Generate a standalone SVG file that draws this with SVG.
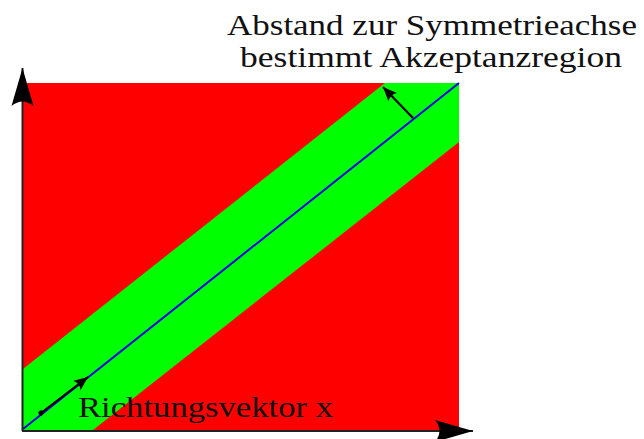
<svg xmlns="http://www.w3.org/2000/svg" width="644" height="439" viewBox="0 0 644 439">
  <style>
    .lbl { font-family: "Liberation Serif", "DejaVu Serif", serif; font-size: 30px; fill: #111; }
    .axis { stroke: #222; stroke-width: 2; fill: none; }
    .vec { stroke: #000; stroke-width: 2.2; fill: none; }
  </style>
  <defs>
    <marker id="bigHead" markerUnits="userSpaceOnUse" markerWidth="44" markerHeight="26" viewBox="-40 -13 44 26" refX="0" refY="0" orient="auto">
      <path d="M0,0 L-38,-11 Q-29,0 -38,11 Z" fill="#000"/>
    </marker>
    <marker id="smallHead" markerUnits="userSpaceOnUse" markerWidth="18" markerHeight="14" viewBox="-16 -7 18 14" refX="0" refY="0" orient="auto">
      <path d="M0,0 L-14,-6 Q-10,0 -14,6 Z" fill="#000"/>
    </marker>
    <marker id="dot" markerUnits="userSpaceOnUse" markerWidth="8" markerHeight="8" viewBox="-4 -4 8 8" refX="0" refY="0" orient="auto">
      <circle cx="0" cy="0" r="2.5" fill="#000"/>
    </marker>
  </defs>
  <g id="field">
    <rect x="23" y="83" width="436" height="347" fill="#ff0000"/>
    <polygon points="23,430 23,369 385,83 459,83 459,142 93,430" fill="#00ff00"/>
    <line x1="23" y1="429" x2="459" y2="83" stroke="#0000e6" stroke-width="2"/>
  </g>
  <g id="connectors">
    <line class="axis" x1="22.5" y1="431" x2="22.5" y2="68" marker-end="url(#bigHead)"/>
    <line class="axis" x1="22" y1="431" x2="473" y2="431" marker-end="url(#bigHead)"/>
    <line class="vec" x1="413" y1="118" x2="383" y2="87" marker-end="url(#smallHead)"/>
    <line class="vec" x1="41" y1="413" x2="88" y2="377" marker-start="url(#dot)" marker-end="url(#smallHead)"/>
  </g>
  <g id="label-abstand">
    <text class="lbl" x="432" y="35" text-anchor="middle" textLength="410" lengthAdjust="spacingAndGlyphs">Abstand zur Symmetrieachse</text>
    <text class="lbl" x="431" y="67" text-anchor="middle" textLength="382" lengthAdjust="spacingAndGlyphs">bestimmt Akzeptanzregion</text>
  </g>
  <g id="label-richtung">
    <text class="lbl" x="78" y="417" textLength="255" lengthAdjust="spacingAndGlyphs">Richtungsvektor x</text>
  </g>
</svg>
